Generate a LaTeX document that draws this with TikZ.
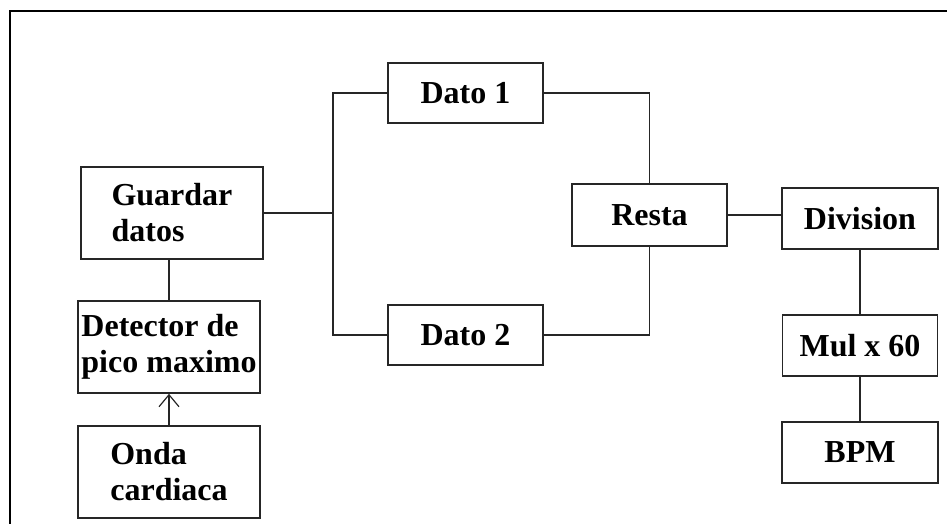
\documentclass[tikz,border=0pt]{standalone}
\usepackage{fontspec}
\setmainfont{Liberation Serif}
\usetikzlibrary{arrows.meta}
\begin{document}
\begin{tikzpicture}[x=1pt,y=-1pt,
  blk/.style={draw=black!85,line width=1.6pt,minimum width=#1,inner sep=0pt,
    font=\fontsize{32}{36}\selectfont\bfseries,align=left},
  conn/.style={draw=black!85,line width=1.3pt},
  frame/.style={draw=black,line width=2.6pt}]
\useasboundingbox (0,0) rectangle (947,524);
\draw[frame] (10,524) -- (10,11) -- (947,11);
\node[blk=182pt,minimum height=92pt] (g) at (172,213) {Guardar\\datos};
\node[blk=182pt,minimum height=92pt] (det) at (169,347) {Detector de\\pico maximo};
\node[blk=182pt,minimum height=92pt] (onda) at (169,472) {Onda\\cardiaca};
\node[blk=155pt,minimum height=60pt] (d1) at (465.5,93) {Dato 1};
\node[blk=155pt,minimum height=60pt] (d2) at (465.5,335) {Dato 2};
\node[blk=155pt,minimum height=62pt] (resta) at (649.5,215) {Resta};
\node[blk=156pt,minimum height=61pt] (div) at (860,218.5) {Division};
\node[blk=155pt,minimum height=61pt] (mul) at (860,345.5) {Mul x 60};
\node[blk=156pt,minimum height=61pt] (bpm) at (860,452.5) {BPM};
\coordinate (j) at (333,213);
\draw[conn] (g.east) -- (j);
\draw[conn] (d1.west) -| (j) |- (d2.west);
\draw[conn] (d1.east) -| (resta.north);
\draw[conn] (d2.east) -| (resta.south);
\draw[conn] (resta.east) -- (resta.east -| div.west);
\draw[conn] (div.south) -- (mul.north);
\draw[conn] (mul.south) -- (bpm.north);
\draw[conn] (det.north) -- (det.north |- g.south);
\draw[conn,-{Straight Barb[length=12pt,width=20pt,line width=1.2pt]}] (onda.north) -- (det.south);
\end{tikzpicture}
\end{document}
